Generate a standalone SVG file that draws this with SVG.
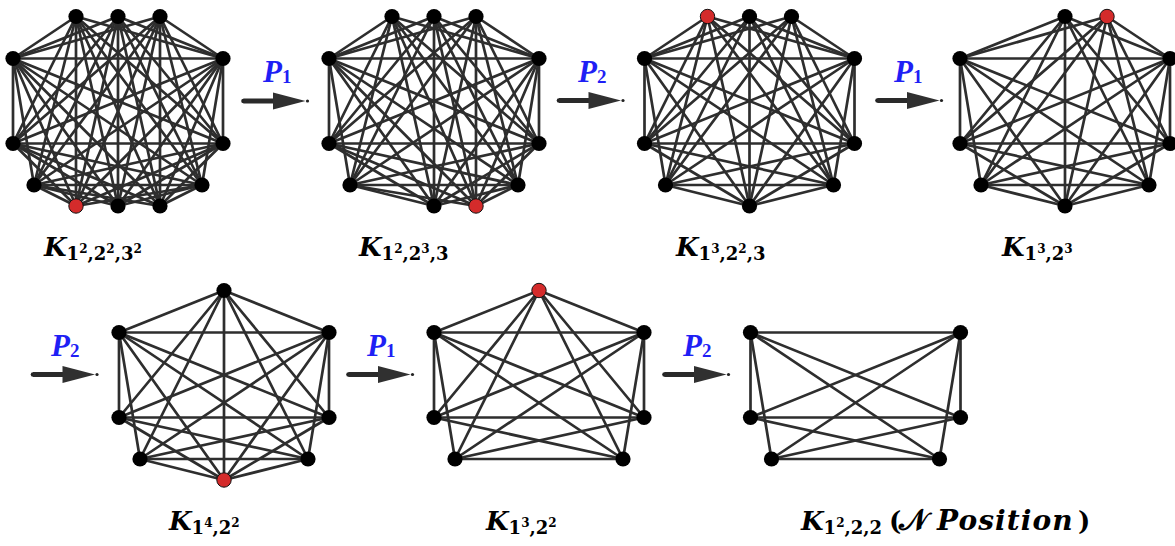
<svg xmlns="http://www.w3.org/2000/svg" xmlns:xlink="http://www.w3.org/1999/xlink" width="1175" height="546" viewBox="0 0 1175 546">
<style>
.edges path{stroke:#2e2e2e;stroke-width:2.7;fill:none;stroke-linecap:round}
.n{fill:#000}
.red{fill:#d42b2b;stroke:#111;stroke-width:1}
.lbl{font-family:"DejaVu Serif","Liberation Serif",serif;font-weight:bold;fill:#000}
.k{font-style:italic;font-size:26px}
.s{font-style:normal;font-size:18px}
.ss{font-style:normal;font-size:12px}
.pl{font-family:"Liberation Serif","DejaVu Serif",serif;font-weight:bold;fill:#1f1ff5}
.pk{font-style:italic;font-size:31px}
.ps{font-style:normal;font-size:19px}
.cal{font-family:"DejaVu Serif","DejaVu Sans","Noto Sans",serif;font-style:normal;font-weight:bold;font-size:30px}
.pos{font-style:italic;font-size:28px;letter-spacing:1.1px}
.par{font-style:normal;font-size:26px}
</style>
<defs>
<g id="arrow">
<circle cx="0.5" cy="0" r="2.3" fill="#222"/>
<line x1="0.5" y1="0" x2="34" y2="0" stroke="#2a2a2a" stroke-width="5.2"/>
<polygon points="30,-8.5 62.5,0 30,8.5" fill="#303030"/>
<circle cx="64.5" cy="0" r="1.6" fill="#222"/>
</g>
</defs>
<rect width="1175" height="546" fill="#fff"/>

<g id="connectors" class="edges">
<g id="g1-edges" transform="translate(13,16.5)">
<path d="M0 42H210"/><path d="M0 42V127"/><path d="M0 42L210 127"/><path d="M0 42L21 168.5"/><path d="M0 42L189 168.5"/><path d="M210 42L0 127"/><path d="M210 42V127"/><path d="M210 42L21 168.5"/><path d="M210 42L189 168.5"/><path d="M0 127H210"/><path d="M0 127L189 168.5"/><path d="M210 127L21 168.5"/><path d="M21 168.5H189"/>
<path d="M105 0L0 42"/><path d="M105 0L210 42"/><path d="M105 0L0 127"/><path d="M105 0L210 127"/><path d="M105 0L21 168.5"/><path d="M105 0L189 168.5"/>
<path d="M105 189.5V0"/><path d="M105 189.5L0 42"/><path d="M105 189.5L210 42"/><path d="M105 189.5L0 127"/><path d="M105 189.5L210 127"/><path d="M105 189.5L21 168.5"/><path d="M105 189.5L189 168.5"/>
<path d="M147 0L105 189.5"/><path d="M147 0L0 42"/><path d="M147 0L210 42"/><path d="M147 0L0 127"/><path d="M147 0L210 127"/><path d="M147 0L21 168.5"/><path d="M147 0L189 168.5"/>
<path d="M63 0L105 189.5"/><path d="M63 0L0 42"/><path d="M63 0L210 42"/><path d="M63 0L0 127"/><path d="M63 0L210 127"/><path d="M63 0L21 168.5"/><path d="M63 0L189 168.5"/>
<path d="M147 189.5L63 0"/><path d="M147 189.5L105 0"/><path d="M147 189.5V0"/><path d="M147 189.5L0 42"/><path d="M147 189.5L210 42"/><path d="M147 189.5L0 127"/><path d="M147 189.5L210 127"/><path d="M147 189.5L21 168.5"/><path d="M147 189.5L189 168.5"/>
<path d="M63 189.5V0"/><path d="M63 189.5L105 0"/><path d="M63 189.5L147 0"/><path d="M63 189.5L0 42"/><path d="M63 189.5L210 42"/><path d="M63 189.5L0 127"/><path d="M63 189.5L210 127"/><path d="M63 189.5L21 168.5"/><path d="M63 189.5L189 168.5"/>
</g>
<g id="g2-edges" transform="translate(329,16.5)">
<path d="M0 42H210"/><path d="M0 42V127"/><path d="M0 42L210 127"/><path d="M0 42L21 168.5"/><path d="M0 42L189 168.5"/><path d="M210 42L0 127"/><path d="M210 42V127"/><path d="M210 42L21 168.5"/><path d="M210 42L189 168.5"/><path d="M0 127H210"/><path d="M0 127L189 168.5"/><path d="M210 127L21 168.5"/><path d="M21 168.5H189"/>
<path d="M105 0L0 42"/><path d="M105 0L210 42"/><path d="M105 0L0 127"/><path d="M105 0L210 127"/><path d="M105 0L21 168.5"/><path d="M105 0L189 168.5"/>
<path d="M105 189.5V0"/><path d="M105 189.5L0 42"/><path d="M105 189.5L210 42"/><path d="M105 189.5L0 127"/><path d="M105 189.5L210 127"/><path d="M105 189.5L21 168.5"/><path d="M105 189.5L189 168.5"/>
<path d="M147 0L105 189.5"/><path d="M147 0L0 42"/><path d="M147 0L210 42"/><path d="M147 0L0 127"/><path d="M147 0L210 127"/><path d="M147 0L21 168.5"/><path d="M147 0L189 168.5"/>
<path d="M63 0L105 189.5"/><path d="M63 0L0 42"/><path d="M63 0L210 42"/><path d="M63 0L0 127"/><path d="M63 0L210 127"/><path d="M63 0L21 168.5"/><path d="M63 0L189 168.5"/>
<path d="M147 189.5L63 0"/><path d="M147 189.5L105 0"/><path d="M147 189.5V0"/><path d="M147 189.5L0 42"/><path d="M147 189.5L210 42"/><path d="M147 189.5L0 127"/><path d="M147 189.5L210 127"/><path d="M147 189.5L21 168.5"/><path d="M147 189.5L189 168.5"/>
</g>
<g id="g3-edges" transform="translate(644.5,16.5)">
<path d="M0 42H210"/><path d="M0 42V127"/><path d="M0 42L210 127"/><path d="M0 42L21 168.5"/><path d="M0 42L189 168.5"/><path d="M210 42L0 127"/><path d="M210 42V127"/><path d="M210 42L21 168.5"/><path d="M210 42L189 168.5"/><path d="M0 127H210"/><path d="M0 127L189 168.5"/><path d="M210 127L21 168.5"/><path d="M21 168.5H189"/>
<path d="M105 0L0 42"/><path d="M105 0L210 42"/><path d="M105 0L0 127"/><path d="M105 0L210 127"/><path d="M105 0L21 168.5"/><path d="M105 0L189 168.5"/>
<path d="M105 189.5V0"/><path d="M105 189.5L0 42"/><path d="M105 189.5L210 42"/><path d="M105 189.5L0 127"/><path d="M105 189.5L210 127"/><path d="M105 189.5L21 168.5"/><path d="M105 189.5L189 168.5"/>
<path d="M147 0L105 189.5"/><path d="M147 0L0 42"/><path d="M147 0L210 42"/><path d="M147 0L0 127"/><path d="M147 0L210 127"/><path d="M147 0L21 168.5"/><path d="M147 0L189 168.5"/>
<path d="M63 0L105 189.5"/><path d="M63 0L0 42"/><path d="M63 0L210 42"/><path d="M63 0L0 127"/><path d="M63 0L210 127"/><path d="M63 0L21 168.5"/><path d="M63 0L189 168.5"/>
</g>
<g id="g4-edges" transform="translate(960,16.5)">
<path d="M0 42H210"/><path d="M0 42V127"/><path d="M0 42L210 127"/><path d="M0 42L21 168.5"/><path d="M0 42L189 168.5"/><path d="M210 42L0 127"/><path d="M210 42V127"/><path d="M210 42L21 168.5"/><path d="M210 42L189 168.5"/><path d="M0 127H210"/><path d="M0 127L189 168.5"/><path d="M210 127L21 168.5"/><path d="M21 168.5H189"/>
<path d="M105 0L0 42"/><path d="M105 0L210 42"/><path d="M105 0L0 127"/><path d="M105 0L210 127"/><path d="M105 0L21 168.5"/><path d="M105 0L189 168.5"/>
<path d="M105 189.5V0"/><path d="M105 189.5L0 42"/><path d="M105 189.5L210 42"/><path d="M105 189.5L0 127"/><path d="M105 189.5L210 127"/><path d="M105 189.5L21 168.5"/><path d="M105 189.5L189 168.5"/>
<path d="M147 0L105 189.5"/><path d="M147 0L0 42"/><path d="M147 0L210 42"/><path d="M147 0L0 127"/><path d="M147 0L210 127"/><path d="M147 0L21 168.5"/><path d="M147 0L189 168.5"/>
</g>
<g id="g5-edges" transform="translate(119,290.5)">
<path d="M0 42H210"/><path d="M0 42V127"/><path d="M0 42L210 127"/><path d="M0 42L21 168.5"/><path d="M0 42L189 168.5"/><path d="M210 42L0 127"/><path d="M210 42V127"/><path d="M210 42L21 168.5"/><path d="M210 42L189 168.5"/><path d="M0 127H210"/><path d="M0 127L189 168.5"/><path d="M210 127L21 168.5"/><path d="M21 168.5H189"/>
<path d="M105 0L0 42"/><path d="M105 0L210 42"/><path d="M105 0L0 127"/><path d="M105 0L210 127"/><path d="M105 0L21 168.5"/><path d="M105 0L189 168.5"/>
<path d="M105 189.5V0"/><path d="M105 189.5L0 42"/><path d="M105 189.5L210 42"/><path d="M105 189.5L0 127"/><path d="M105 189.5L210 127"/><path d="M105 189.5L21 168.5"/><path d="M105 189.5L189 168.5"/>
</g>
<g id="g6-edges" transform="translate(434,290.5)">
<path d="M0 42H210"/><path d="M0 42V127"/><path d="M0 42L210 127"/><path d="M0 42L21 168.5"/><path d="M0 42L189 168.5"/><path d="M210 42L0 127"/><path d="M210 42V127"/><path d="M210 42L21 168.5"/><path d="M210 42L189 168.5"/><path d="M0 127H210"/><path d="M0 127L189 168.5"/><path d="M210 127L21 168.5"/><path d="M21 168.5H189"/>
<path d="M105 0L0 42"/><path d="M105 0L210 42"/><path d="M105 0L0 127"/><path d="M105 0L210 127"/><path d="M105 0L21 168.5"/><path d="M105 0L189 168.5"/>
</g>
<g id="g7-edges" transform="translate(750.5,290.5)">
<path d="M0 42H210"/><path d="M0 42V127"/><path d="M0 42L210 127"/><path d="M0 42L21 168.5"/><path d="M0 42L189 168.5"/><path d="M210 42L0 127"/><path d="M210 42V127"/><path d="M210 42L21 168.5"/><path d="M210 42L189 168.5"/><path d="M0 127H210"/><path d="M0 127L189 168.5"/><path d="M210 127L21 168.5"/><path d="M21 168.5H189"/>
</g>
</g>

<g id="nodes">
<g id="graph1" transform="translate(13,16.5)">
<g id="g1-t1"><circle class="n" cx="63" cy="0" r="7.6"/></g>
<g id="g1-t2"><circle class="n" cx="105" cy="0" r="7.6"/></g>
<g id="g1-t3"><circle class="n" cx="147" cy="0" r="7.6"/></g>
<g id="g1-lt"><circle class="n" cx="0" cy="42" r="7.6"/></g>
<g id="g1-rt"><circle class="n" cx="210" cy="42" r="7.6"/></g>
<g id="g1-lm"><circle class="n" cx="0" cy="127" r="7.6"/></g>
<g id="g1-rm"><circle class="n" cx="210" cy="127" r="7.6"/></g>
<g id="g1-bl"><circle class="n" cx="21" cy="168.5" r="7.6"/></g>
<g id="g1-br"><circle class="n" cx="189" cy="168.5" r="7.6"/></g>
<g id="g1-b1"><circle class="red" cx="63" cy="189.5" r="7.2"/></g>
<g id="g1-b2"><circle class="n" cx="105" cy="189.5" r="7.6"/></g>
<g id="g1-b3"><circle class="n" cx="147" cy="189.5" r="7.6"/></g>
</g>
<g id="graph2" transform="translate(329,16.5)">
<g id="g2-t1"><circle class="n" cx="63" cy="0" r="7.6"/></g>
<g id="g2-t2"><circle class="n" cx="105" cy="0" r="7.6"/></g>
<g id="g2-t3"><circle class="n" cx="147" cy="0" r="7.6"/></g>
<g id="g2-lt"><circle class="n" cx="0" cy="42" r="7.6"/></g>
<g id="g2-rt"><circle class="n" cx="210" cy="42" r="7.6"/></g>
<g id="g2-lm"><circle class="n" cx="0" cy="127" r="7.6"/></g>
<g id="g2-rm"><circle class="n" cx="210" cy="127" r="7.6"/></g>
<g id="g2-bl"><circle class="n" cx="21" cy="168.5" r="7.6"/></g>
<g id="g2-br"><circle class="n" cx="189" cy="168.5" r="7.6"/></g>
<g id="g2-b2"><circle class="n" cx="105" cy="189.5" r="7.6"/></g>
<g id="g2-b3"><circle class="red" cx="147" cy="189.5" r="7.2"/></g>
</g>
<g id="graph3" transform="translate(644.5,16.5)">
<g id="g3-t1"><circle class="red" cx="63" cy="0" r="7.2"/></g>
<g id="g3-t2"><circle class="n" cx="105" cy="0" r="7.6"/></g>
<g id="g3-t3"><circle class="n" cx="147" cy="0" r="7.6"/></g>
<g id="g3-lt"><circle class="n" cx="0" cy="42" r="7.6"/></g>
<g id="g3-rt"><circle class="n" cx="210" cy="42" r="7.6"/></g>
<g id="g3-lm"><circle class="n" cx="0" cy="127" r="7.6"/></g>
<g id="g3-rm"><circle class="n" cx="210" cy="127" r="7.6"/></g>
<g id="g3-bl"><circle class="n" cx="21" cy="168.5" r="7.6"/></g>
<g id="g3-br"><circle class="n" cx="189" cy="168.5" r="7.6"/></g>
<g id="g3-b2"><circle class="n" cx="105" cy="189.5" r="7.6"/></g>
</g>
<g id="graph4" transform="translate(960,16.5)">
<g id="g4-t2"><circle class="n" cx="105" cy="0" r="7.6"/></g>
<g id="g4-t3"><circle class="red" cx="147" cy="0" r="7.2"/></g>
<g id="g4-lt"><circle class="n" cx="0" cy="42" r="7.6"/></g>
<g id="g4-rt"><circle class="n" cx="210" cy="42" r="7.6"/></g>
<g id="g4-lm"><circle class="n" cx="0" cy="127" r="7.6"/></g>
<g id="g4-rm"><circle class="n" cx="210" cy="127" r="7.6"/></g>
<g id="g4-bl"><circle class="n" cx="21" cy="168.5" r="7.6"/></g>
<g id="g4-br"><circle class="n" cx="189" cy="168.5" r="7.6"/></g>
<g id="g4-b2"><circle class="n" cx="105" cy="189.5" r="7.6"/></g>
</g>
<g id="graph5" transform="translate(119,290.5)">
<g id="g5-t2"><circle class="n" cx="105" cy="0" r="7.6"/></g>
<g id="g5-lt"><circle class="n" cx="0" cy="42" r="7.6"/></g>
<g id="g5-rt"><circle class="n" cx="210" cy="42" r="7.6"/></g>
<g id="g5-lm"><circle class="n" cx="0" cy="127" r="7.6"/></g>
<g id="g5-rm"><circle class="n" cx="210" cy="127" r="7.6"/></g>
<g id="g5-bl"><circle class="n" cx="21" cy="168.5" r="7.6"/></g>
<g id="g5-br"><circle class="n" cx="189" cy="168.5" r="7.6"/></g>
<g id="g5-b2"><circle class="red" cx="105" cy="189.5" r="7.2"/></g>
</g>
<g id="graph6" transform="translate(434,290.5)">
<g id="g6-t2"><circle class="red" cx="105" cy="0" r="7.2"/></g>
<g id="g6-lt"><circle class="n" cx="0" cy="42" r="7.6"/></g>
<g id="g6-rt"><circle class="n" cx="210" cy="42" r="7.6"/></g>
<g id="g6-lm"><circle class="n" cx="0" cy="127" r="7.6"/></g>
<g id="g6-rm"><circle class="n" cx="210" cy="127" r="7.6"/></g>
<g id="g6-bl"><circle class="n" cx="21" cy="168.5" r="7.6"/></g>
<g id="g6-br"><circle class="n" cx="189" cy="168.5" r="7.6"/></g>
</g>
<g id="graph7" transform="translate(750.5,290.5)">
<g id="g7-lt"><circle class="n" cx="0" cy="42" r="7.6"/></g>
<g id="g7-rt"><circle class="n" cx="210" cy="42" r="7.6"/></g>
<g id="g7-lm"><circle class="n" cx="0" cy="127" r="7.6"/></g>
<g id="g7-rm"><circle class="n" cx="210" cy="127" r="7.6"/></g>
<g id="g7-bl"><circle class="n" cx="21" cy="168.5" r="7.6"/></g>
<g id="g7-br"><circle class="n" cx="189" cy="168.5" r="7.6"/></g>
</g>
</g>

<g id="arrows">
<use xlink:href="#arrow" href="#arrow" x="243" y="101"/>
<use xlink:href="#arrow" href="#arrow" x="558.5" y="100.5"/>
<use xlink:href="#arrow" href="#arrow" x="877" y="100.5"/>
<use xlink:href="#arrow" href="#arrow" x="32.5" y="374.5"/>
<use xlink:href="#arrow" href="#arrow" x="348" y="374.5"/>
<use xlink:href="#arrow" href="#arrow" x="664" y="374.5"/>
</g>

<g id="move-labels">
<text class="pl" x="263" y="82"><tspan class="pk">P</tspan><tspan class="ps" dy="1">1</tspan></text>
<text class="pl" x="578" y="82"><tspan class="pk">P</tspan><tspan class="ps" dy="1">2</tspan></text>
<text class="pl" x="894" y="82"><tspan class="pk">P</tspan><tspan class="ps" dy="1">1</tspan></text>
<text class="pl" x="51" y="356"><tspan class="pk">P</tspan><tspan class="ps" dy="1">2</tspan></text>
<text class="pl" x="367" y="356"><tspan class="pk">P</tspan><tspan class="ps" dy="1">1</tspan></text>
<text class="pl" x="683" y="356"><tspan class="pk">P</tspan><tspan class="ps" dy="1">2</tspan></text>
</g>

<g id="graph-labels">
<text class="lbl" x="44" y="256"><tspan class="k">K</tspan><tspan class="s" dy="4">1</tspan><tspan class="ss" dy="-7">2</tspan><tspan class="s" dy="7">,2</tspan><tspan class="ss" dy="-7">2</tspan><tspan class="s" dy="7">,3</tspan><tspan class="ss" dy="-7">2</tspan></text>
<text class="lbl" x="359" y="256"><tspan class="k">K</tspan><tspan class="s" dy="4">1</tspan><tspan class="ss" dy="-7">2</tspan><tspan class="s" dy="7">,2</tspan><tspan class="ss" dy="-7">3</tspan><tspan class="s" dy="7">,3</tspan></text>
<text class="lbl" x="676" y="256"><tspan class="k">K</tspan><tspan class="s" dy="4">1</tspan><tspan class="ss" dy="-7">3</tspan><tspan class="s" dy="7">,2</tspan><tspan class="ss" dy="-7">2</tspan><tspan class="s" dy="7">,3</tspan></text>
<text class="lbl" x="1002" y="256"><tspan class="k">K</tspan><tspan class="s" dy="4">1</tspan><tspan class="ss" dy="-7">3</tspan><tspan class="s" dy="7">,2</tspan><tspan class="ss" dy="-7">3</tspan></text>
<text class="lbl" x="169" y="530"><tspan class="k">K</tspan><tspan class="s" dy="4">1</tspan><tspan class="ss" dy="-7">4</tspan><tspan class="s" dy="7">,2</tspan><tspan class="ss" dy="-7">2</tspan></text>
<text class="lbl" x="486" y="530"><tspan class="k">K</tspan><tspan class="s" dy="4">1</tspan><tspan class="ss" dy="-7">3</tspan><tspan class="s" dy="7">,2</tspan><tspan class="ss" dy="-7">2</tspan></text>
<text class="lbl" x="801" y="530"><tspan class="k">K</tspan><tspan class="s" dy="4">1</tspan><tspan class="ss" dy="-7">2</tspan><tspan class="s" dy="7">,2,2</tspan><tspan class="par" x="889" dy="-4">(</tspan><tspan class="cal" x="899">𝒩</tspan><tspan class="pos" x="937">Position</tspan><tspan class="par" x="1078">)</tspan></text>
</g>
</svg>
